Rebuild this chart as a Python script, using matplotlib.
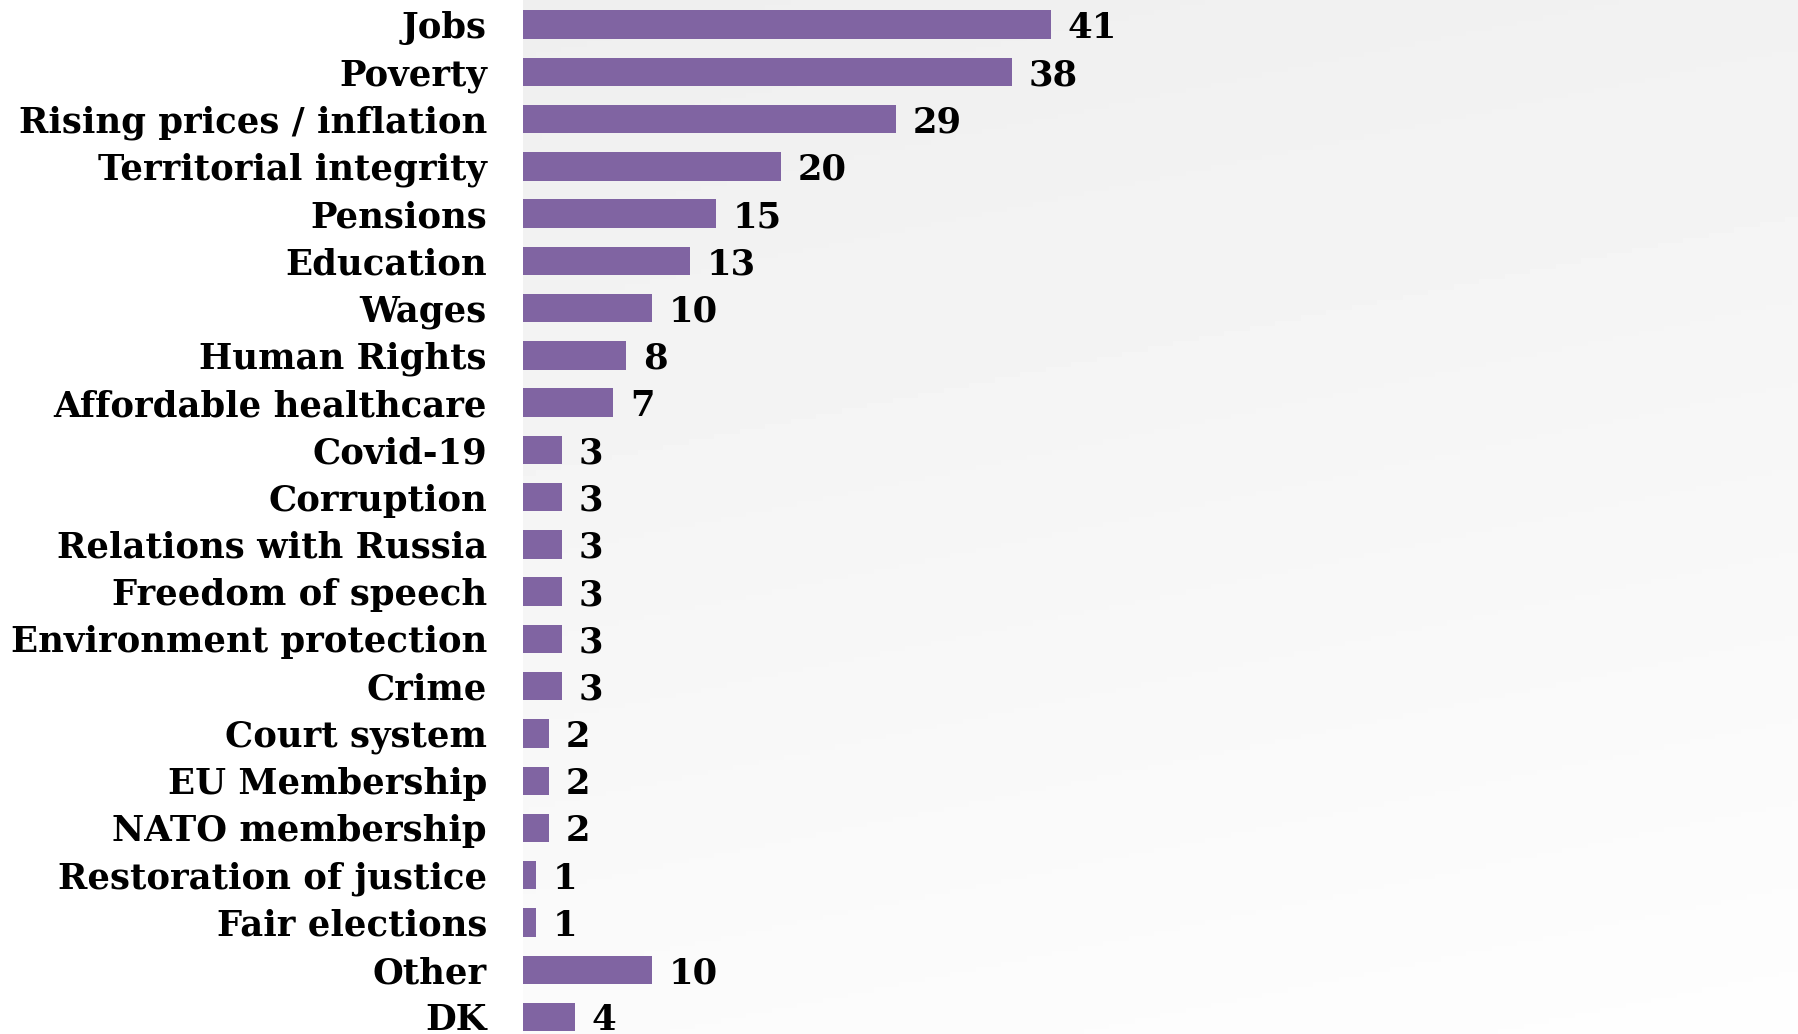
import numpy as np
import matplotlib.pyplot as plt

# Data
categories = [
    "Jobs", "Poverty", "Rising prices / inflation", "Territorial integrity",
    "Pensions", "Education", "Wages", "Human Rights", "Affordable healthcare",
    "Covid-19", "Corruption", "Relations with Russia", "Freedom of speech",
    "Environment protection", "Crime", "Court system", "EU Membership",
    "NATO membership", "Restoration of justice", "Fair elections", "Other", "DK",
]
values = [41, 38, 29, 20, 15, 13, 10, 8, 7, 3, 3, 3, 3, 3, 3, 2, 2, 2, 1, 1, 10, 4]

bar_color = "#8064a2"
font = {"family": "DejaVu Serif", "weight": "bold", "size": 25.5}

fig = plt.figure(figsize=(17.98, 10.34), dpi=100, facecolor="white")
ax = fig.add_axes([523 / 1798, 0, 1 - 523 / 1798, 1])

# soft grey gradient background
yy, xx = np.mgrid[0:1:200j, 0:1:200j]
grad = 0.935 + 0.06 * (0.8 * yy + 0.2 * xx)
ax.imshow(grad, cmap="gray", vmin=0, vmax=1, extent=(0, 1, 0, 1),
          transform=ax.transAxes, aspect="auto", zorder=0, origin="upper")

pos = np.arange(len(categories))
ax.barh(pos, values, height=0.6, color=bar_color, zorder=2)

for p, v in zip(pos, values):
    ax.annotate(str(v), (v, p), xytext=(12, 0), textcoords="offset points",
                va="center_baseline", ha="left", zorder=3, **font)

ax.set_xlim(0, 99)
ax.set_ylim(21.36, -0.52)
ax.set_yticks(pos)
ax.set_yticklabels(categories, fontdict=font, va="center_baseline")
ax.tick_params(axis="y", length=0, pad=26)
ax.set_xticks([])
for s in ax.spines.values():
    s.set_visible(False)

plt.savefig("out.png", dpi=100)
